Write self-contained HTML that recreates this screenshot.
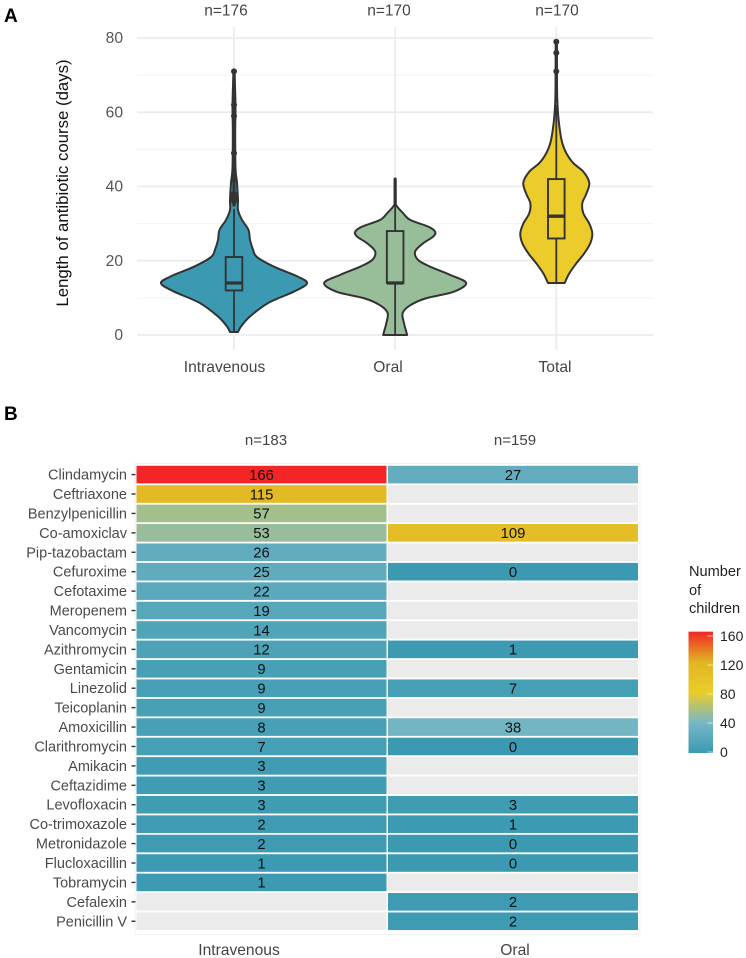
<!DOCTYPE html>
<html lang="en">
<head>
<meta charset="utf-8">
<title>Antibiotic course length and antibiotic use</title>
<style>
html,body{margin:0;padding:0;background:#fff;}
svg{display:block;font-family:"Liberation Sans",Arial,sans-serif;}
</style>
</head>
<body>
<svg id="fig" width="746" height="958" viewBox="0 0 746 958" xmlns="http://www.w3.org/2000/svg">
  <rect width="746" height="958" fill="#fff"/>
  <text x="4" y="22" font-size="19" font-weight="700" fill="#000">A</text>
  <text x="4" y="420" font-size="19" font-weight="700" fill="#000">B</text>
  <text transform="translate(68,183) rotate(-90)" text-anchor="middle" font-size="16.8" fill="#111">Length of antibiotic course (days)</text>
  <g id="panelA"></g>
  <g id="panelB"></g>
  <defs>
    <linearGradient id="legendGrad" x1="0" y1="1" x2="0" y2="0">
      <stop offset="0" stop-color="#3B9AB2"/>
      <stop offset="0.25" stop-color="#78B7C5"/>
      <stop offset="0.5" stop-color="#EBCC2A"/>
      <stop offset="0.75" stop-color="#E1B423"/>
      <stop offset="1" stop-color="#F22626"/>
    </linearGradient>
  </defs>
  <g id="legend">
    <text font-size="14.6" fill="#222"><tspan x="689" y="576">Number</tspan><tspan x="689" y="595">of</tspan><tspan x="689" y="613">children</tspan></text>
  </g>
</svg>
<script>
// ---------- Panel A data ----------
const violinCategories = ['Intravenous', 'Oral', 'Total'];
const violinCounts = ['n=176', 'n=170', 'n=170'];
const violinColors = ['#3B9AB2', '#98BE99', '#EBCC2A'];
const yTicks = [0, 20, 40, 60, 80];
const yMinorTicks = [10, 30, 50, 70];

const ivDays = [0.8, 2.3, 5, 8.6, 11.7, 13.9, 15.7, 18.4, 21, 23, 25.6, 28.3, 31, 33.7, 36.4, 41, 45, 55, 62, 71];
const ivDensity = [4, 7, 16, 34, 60, 73, 64, 40, 23, 19, 16, 14.5, 8, 4, 4, 3, 1.5, 1.2, 1.5, 0.5];
const oralDays = [0, 1.5, 3, 5.9, 8, 9.9, 11.6, 14, 16.2, 18.4, 20.2, 22.5, 24.7, 26.5, 27.8, 29.2, 31, 32.8, 34.6, 36, 42];
const oralDensity = [12, 10.5, 9, 7.5, 15, 31, 58, 71, 55, 35, 23, 20, 28, 38, 40, 33, 15, 8, 2, 0.5, 0.3];
const totalDays = [14, 16.6, 19.3, 22, 24.7, 27.4, 30, 32.8, 35.5, 38, 41, 44, 46.3, 49, 51.7, 54.4, 58.8, 63.4, 70, 79];
const totalDensity = [8.3, 13, 20, 28, 34, 36, 33, 27, 26, 30, 33, 27, 17, 10, 6, 4, 2, 1, 0.6, 0.4];

const boxLower = [12, 14, 26];
const boxMedian = [14, 14, 32];
const boxUpper = [21, 28, 42];
const whiskerLow = [0.8, 0, 14];
const whiskerHigh = [34, 36, 62];
const tailLow = [35, 36, 63];
const tailHigh = [71, 42, 79];
const ivOutliers = [36, 36.5, 37, 37.5, 38, 42, 49, 59, 62, 71];
const oralOutliers = [];
const totalOutliers = [71, 76, 79];

// ---------- Panel B data ----------
const drugs = ['Clindamycin','Ceftriaxone','Benzylpenicillin','Co-amoxiclav','Pip-tazobactam','Cefuroxime','Cefotaxime','Meropenem','Vancomycin','Azithromycin','Gentamicin','Linezolid','Teicoplanin','Amoxicillin','Clarithromycin','Amikacin','Ceftazidime','Levofloxacin','Co-trimoxazole','Metronidazole','Flucloxacillin','Tobramycin','Cefalexin','Penicillin V'];
const routes = ['Intravenous', 'Oral'];
const routeCounts = ['n=183', 'n=159'];
const ivCounts = [166,115,57,53,26,25,22,19,14,12,9,9,9,8,7,3,3,3,2,2,1,1,null,null];
const oralCounts = [27,null,null,109,null,0,null,null,null,1,null,7,null,38,0,null,null,3,1,0,0,null,2,2];
const legendTicks = [0, 40, 80, 120, 160];
const colorStops = ['#3B9AB2', '#78B7C5', '#EBCC2A', '#E1B423', '#F22626'];
const colorMax = 166;

// ---------- Scales ----------
const SVGNS = 'http://www.w3.org/2000/svg';
const yScale = d => 335 - d * 3.7125;
const catX = i => 234 + i * 161.15;
const bandHalf = d => d;
const rowY = i => 465.8 + i * 19.42;
const colX = i => 136.5 + i * 251.5;
const legendY = v => 752 - v * 0.725;

function rgb(hex){return [1,3,5].map(p=>parseInt(hex.substr(p,2),16));}
function colorFor(v){
  const t = Math.min(v / colorMax, 1) * (colorStops.length - 1);
  const i = Math.min(Math.floor(t), colorStops.length - 2);
  const f = t - i, a = rgb(colorStops[i]), b = rgb(colorStops[i + 1]);
  return 'rgb(' + a.map((c, k) => Math.round(c + (b[k] - c) * f)).join(',') + ')';
}
function make(tag, parent){
  const el = document.createElementNS(SVGNS, tag);
  parent.appendChild(el);
  return el;
}
function setAll(el, props){
  for (const k in props) el.setAttribute(k, props[k]);
  return el;
}
function smooth(pts){
  let d = '';
  for (let i = 0; i < pts.length - 1; i++){
    const p0 = pts[Math.max(i - 1, 0)], p1 = pts[i], p2 = pts[i + 1], p3 = pts[Math.min(i + 2, pts.length - 1)];
    const c1 = [p1[0] + (p2[0] - p0[0]) / 6, p1[1] + (p2[1] - p0[1]) / 6];
    const c2 = [p2[0] - (p3[0] - p1[0]) / 6, p2[1] - (p3[1] - p1[1]) / 6];
    d += ' C' + c1[0].toFixed(2) + ' ' + c1[1].toFixed(2) + ' ' + c2[0].toFixed(2) + ' ' + c2[1].toFixed(2) + ' ' + p2[0].toFixed(2) + ' ' + p2[1].toFixed(2);
  }
  return d;
}

// ---------- Panel A ----------
const A = document.getElementById('panelA');
yMinorTicks.forEach(t => {
  const l = make('line', A);
  
  
  setAll(l, {x1: 137, x2: 653, y1: yScale(t), y2: yScale(t), stroke: '#f3f3f3', 'stroke-width': 1});
});
yTicks.forEach(t => {
  const l = make('line', A);
  
  
  setAll(l, {x1: 137, x2: 653, y1: yScale(t), y2: yScale(t), stroke: '#ebebeb', 'stroke-width': 1.7});
  const s = make('text', A);
  
  
  setAll(s, {x: 123, y: yScale(t) + 5, 'text-anchor': 'end', 'font-size': 15.6, fill: '#555'});
  s.textContent = t;
});
const violinDays = [ivDays, oralDays, totalDays];
const violinDensity = [ivDensity, oralDensity, totalDensity];
const violinOutliers = [ivOutliers, oralOutliers, totalOutliers];
const nCenters = [226, 389, 557];
const catCenters = [224.5, 388, 555];
violinCategories.forEach((name, i) => {
  const cx = catX(i);
  const g = make('line', A);
  
  
  setAll(g, {x1: cx, x2: cx, y1: 27, y2: 350, stroke: '#ebebeb', 'stroke-width': 1.7});

  const right = violinDays[i].map((d, k) => [cx + bandHalf(violinDensity[i][k]), yScale(d)]);
  const left = right.map(p => [2 * cx - p[0], p[1]]).reverse();
  const v = make('path', A);
  
  
  const dPath = 'M' + right[0][0] + ' ' + right[0][1] + smooth(right) + ' L' + left[0][0] + ' ' + left[0][1] + smooth(left) + ' Z';
  setAll(v, {d: dPath, fill: violinColors[i], stroke: '#333', 'stroke-width': 2, 'stroke-linejoin': 'round'});

  const wh = make('line', A);
  
  
  setAll(wh, {x1: cx, x2: cx, y1: yScale(whiskerLow[i]), y2: yScale(whiskerHigh[i]), stroke: '#333', 'stroke-width': 1.8});

  const tail = make('line', A);
  
  
  setAll(tail, {x1: cx, x2: cx, y1: yScale(tailLow[i]), y2: yScale(tailHigh[i]), stroke: '#333', 'stroke-width': 3.2, 'stroke-linecap': 'round'});

  const b = make('rect', A);
  
  
  setAll(b, {x: cx - 8.3, width: 16.6, y: yScale(boxUpper[i]), height: yScale(boxLower[i]) - yScale(boxUpper[i]), fill: violinColors[i], stroke: '#333', 'stroke-width': 1.9});

  const m = make('line', A);
  
  
  setAll(m, {x1: cx - 8.3, x2: cx + 8.3, y1: yScale(boxMedian[i]), y2: yScale(boxMedian[i]), stroke: '#333', 'stroke-width': 3.3});

  violinOutliers[i].forEach(o => {
    const c = make('circle', A);
    
    
    setAll(c, {cx: cx, cy: yScale(o), r: 3, fill: '#333'});
  });

  const n = make('text', A);
  
  
  setAll(n, {x: nCenters[i], y: 15.5, 'text-anchor': 'middle', 'font-size': 15.5, fill: '#444'});
  n.textContent = violinCounts[i];

  const t = make('text', A);
  
  
  setAll(t, {x: catCenters[i], y: 372, 'text-anchor': 'middle', 'font-size': 15.6, fill: '#444'});
  t.textContent = name;
});

// ---------- Panel B ----------
const B = document.getElementById('panelB');
const frame = make('rect', B);


setAll(frame, {x: 135, y: 463.5, width: 505, height: 471, fill: 'none', stroke: '#f1f1f1', 'stroke-width': 1});
const countCols = [ivCounts, oralCounts];
const routeCountCenters = [266, 515];
const routeLabelCenters = [239, 515];
routes.forEach((route, c) => {
  const h = make('text', B);
  
  
  setAll(h, {x: routeCountCenters[c], y: 445, 'text-anchor': 'middle', 'font-size': 15, fill: '#444'});
  h.textContent = routeCounts[c];
  const f = make('text', B);
  
  
  setAll(f, {x: routeLabelCenters[c], y: 955, 'text-anchor': 'middle', 'font-size': 15.6, fill: '#444'});
  f.textContent = route;
});
drugs.forEach((drug, r) => {
  const mid = rowY(r) + 8.8;
  const lab = make('text', B);
  
  
  setAll(lab, {x: 127, y: mid + 5, 'text-anchor': 'end', 'font-size': 14.5, fill: '#4a4a4a'});
  lab.textContent = drug;
  const tk = make('line', B);
  
  
  setAll(tk, {x1: 131.5, x2: 135.5, y1: mid, y2: mid, stroke: '#333', 'stroke-width': 1.4});
  countCols.forEach((col, c) => {
    const v = col[r];
    const cell = make('rect', B);
    
    
    setAll(cell, {x: colX(c), y: rowY(r), width: 250, height: 17.6, fill: v === null ? '#ebebeb' : colorFor(v)});
    if (v !== null){
      const t = make('text', B);
      
      
      setAll(t, {x: colX(c) + 125, y: mid + 5.3, 'text-anchor': 'middle', 'font-size': 14.8, fill: '#111'});
      t.textContent = v;
    }
  });
});

// ---------- Legend ----------
const L = document.getElementById('legend');
const bar = make('rect', L);


setAll(bar, {x: 688.5, y: legendY(colorMax), width: 24.5, height: legendY(0) - legendY(colorMax) + 1, fill: 'url(#legendGrad)'});
legendTicks.forEach(t => {
  const a = make('line', L);
  
  
  setAll(a, {x1: 707.5, x2: 713, y1: legendY(t), y2: legendY(t), stroke: '#fff', 'stroke-width': 0.8, 'stroke-opacity': 0.8});
  const s = make('text', L);
  
  
  setAll(s, {x: 720, y: legendY(t) + 5, 'font-size': 14, fill: '#222'});
  s.textContent = t;
});
</script>
</body>
</html>
